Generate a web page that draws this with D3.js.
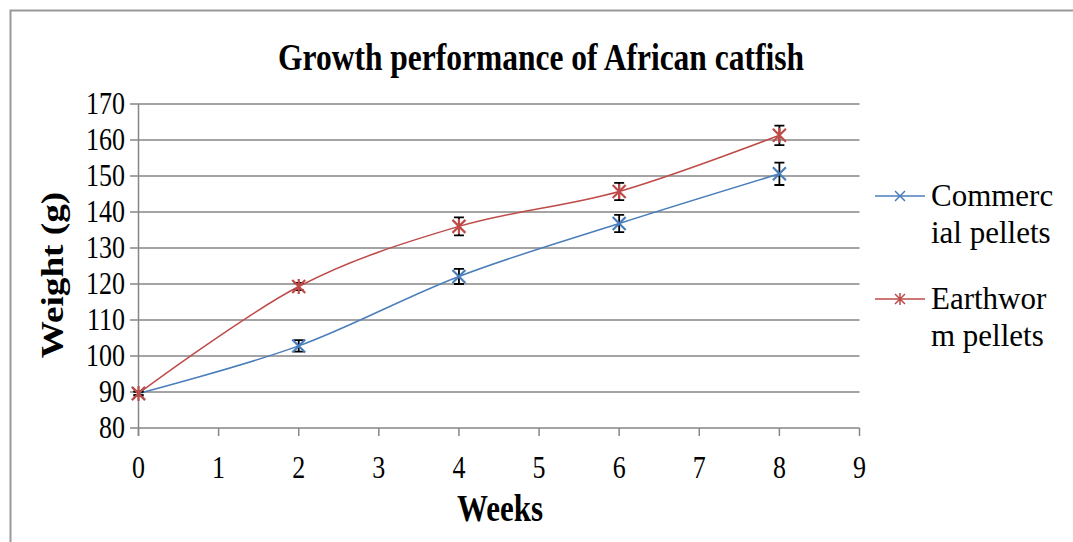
<!DOCTYPE html>
<html><head><meta charset="utf-8">
<script src="https://cdn.jsdelivr.net/npm/d3@7"></script>
<style>body{margin:0;background:#fff;}svg{display:block;} text{font-family:"Liberation Serif","Times New Roman",serif;}</style>
</head><body>
<svg id="c" width="1073" height="542"></svg>
<script>
const weeks = [0, 2, 4, 6, 8];
const commercial = [89.6, 102.8, 122.1, 136.8, 150.6];
const commercialErr = [0.5, 1.6, 2.1, 2.4, 3.1];
const earthworm = [89.6, 119.3, 136.0, 145.7, 161.3];
const earthwormErr = [0.5, 1.0, 2.5, 2.4, 2.7];
const xTicks = [0,1,2,3,4,5,6,7,8,9];
const yTicks = [80,90,100,110,120,130,140,150,160,170];
const seriesNames = [["Commerc","ial pellets"],["Earthwor","m pellets"]];
const title = "Growth performance of African catfish";

const svg = d3.select("#c");
const blue = "#4A7EBB", red = "#BE4B48", grid = "#868686";
const VS = 1.2; // vertical stretch of the text in the picture

function txt(g, tx, ty, str, size, anchor, bold, vs){
  return g.append("text").attr("transform",`translate(${tx},${ty}) scale(1,${vs||VS})`)
    .attr("text-anchor",anchor).attr("font-size",size).attr("font-weight",bold?"bold":"normal").text(str);
}

// outer frame
svg.append("path").attr("d","M10.5,542 L10.5,10.5 L1073,10.5").attr("fill","none").attr("stroke","#999").attr("stroke-width",2);

const x = d3.scaleLinear().domain([0,9]).range([138.5,859.5]);
const y = d3.scaleLinear().domain([80,170]).range([428,104]);

// gridlines
svg.append("g").selectAll("line").data(yTicks).join("line")
  .attr("x1",130).attr("x2",x(9)).attr("y1",d=>y(d)).attr("y2",d=>y(d))
  .attr("stroke",grid).attr("stroke-width",1.5);

// y axis
svg.append("line").attr("x1",x(0)).attr("x2",x(0)).attr("y1",y(170)).attr("y2",436)
  .attr("stroke",grid).attr("stroke-width",1.5);
// x ticks
svg.append("g").selectAll("line").data(xTicks).join("line")
  .attr("x1",d=>x(d)).attr("x2",d=>x(d)).attr("y1",y(80)).attr("y2",436)
  .attr("stroke",grid).attr("stroke-width",1.5);

// tick labels
const gy = svg.append("g");
yTicks.forEach(d=>txt(gy,125,y(d)+10,d,26,"end",false));
const gx = svg.append("g");
xTicks.forEach(d=>txt(gx,x(d),478,d,26,"middle",false));

// titles
txt(svg,541,70,title,31.5,"middle",true);
txt(svg,500,521,"Weeks",31,"middle",true);
svg.append("text").attr("transform",`translate(63,275) rotate(-90) scale(${VS},1)`).attr("text-anchor","middle")
  .attr("font-weight","bold").attr("font-size",31).text("Weight (g)");

const line = d3.line().x(d=>x(d[0])).y(d=>y(d[1])).curve(d3.curveCatmullRom.alpha(0));

const series = [
  {vals:commercial, err:commercialErr, color:blue, star:false},
  {vals:earthworm, err:earthwormErr, color:red, star:true}
];

function marker(g, cx, cy, color, star, s, w){
  g.append("path").attr("d",`M${cx-s},${cy-s}L${cx+s},${cy+s}M${cx-s},${cy+s}L${cx+s},${cy-s}`+(star?`M${cx},${cy-s-1}L${cx},${cy+s+1}`:""))
   .attr("stroke",color).attr("stroke-width",w).attr("fill","none");
}

series.forEach(s=>{
  const pts = weeks.map((w,i)=>[w,s.vals[i]]);
  svg.append("path").attr("d",line(pts)).attr("fill","none").attr("stroke",s.color).attr("stroke-width",1.5);
});
series.forEach(s=>{
  const g = svg.append("g");
  weeks.forEach((w,i)=>{
    const cx=x(w), hi=y(s.vals[i]+s.err[i]), lo=y(s.vals[i]-s.err[i]);
    g.append("path").attr("d",`M${cx},${hi}L${cx},${lo}M${cx-5},${hi}L${cx+5},${hi}M${cx-5},${lo}L${cx+5},${lo}`)
      .attr("stroke","#000").attr("stroke-width",1.8).attr("fill","none");
    marker(g, cx, y(s.vals[i]), s.color, s.star, 6.5, 2.2);
  });
});

// legend
const legY=[196,299];
series.forEach((s,i)=>{
  const g=svg.append("g");
  g.append("line").attr("x1",875).attr("x2",925).attr("y1",legY[i]).attr("y2",legY[i]).attr("stroke",s.color).attr("stroke-width",1.5);
  marker(g, 900, legY[i], s.color, s.star, 5, 1.5);
  seriesNames[i].forEach((t,j)=>txt(g,931,legY[i]+10+j*37,t,31,"start",false,1.05));
});
</script>
</body></html>
